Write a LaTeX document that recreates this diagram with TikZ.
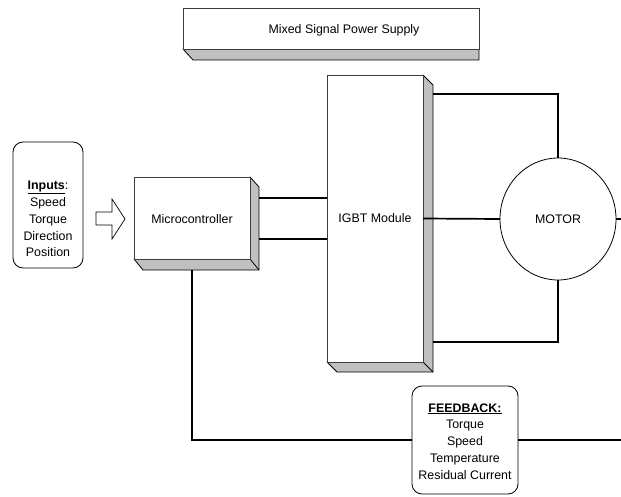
\documentclass[tikz,border=0pt]{standalone}
\usepackage{fontspec}
\setmainfont{Liberation Sans}
\usetikzlibrary{calc,shapes.geometric}
\definecolor{shadowgray}{RGB}{192,192,192}
\definecolor{edgegray}{RGB}{60,60,60}
\begin{document}
\begin{tikzpicture}[x=1pt,y=-1pt,
  face/.style={draw=edgegray, fill=white, line width=0.8pt, inner sep=0pt, outer sep=0pt},
  depthface/.style={draw=black, fill=shadowgray, line width=0.8pt, line join=round},
  wire/.style={line width=1.7pt, line join=miter},
  lbl/.style={font=\fontsize{12.4}{16.8}\selectfont, align=center, inner sep=0pt},
  roundbox/.style={draw=black, fill=white, line width=0.8pt, rounded corners=10pt, inner sep=0pt, outer sep=0pt}
]
\useasboundingbox (0,0) rectangle (621,497);

% ---------- Power supply ----------
\draw[depthface] (183,49) -- (479,49) -- (479,60) -- (193,60) -- cycle;
\node[face, minimum width=296, minimum height=41] (ps) at (331,28.5) {};
\node[lbl] (pstext) at (344,30) {Mixed Signal Power Supply};

% ---------- Inputs ----------
\node[roundbox, minimum width=70, minimum height=126] (inputs) at (48,205) {};
\node[lbl] (inputstext) at (48,219) {\textbf{\underline{Inputs}}:\\Speed\\Torque\\Direction\\Position};

% block arrow
\draw[line width=0.7pt, fill=white, line join=miter]
  (96,212) -- (112,212) -- (112,199) -- (125,219) -- (112,239) -- (112,225) -- (96,225) -- cycle;

% ---------- Microcontroller ----------
\node[face, minimum width=116, minimum height=82] (mc) at (192,218) {};
\draw[depthface] (mc.north east) -- ++(9,10) -- ($(mc.south east)+(9,11)$) -- ($(mc.south west)+(9,11)$)
  -- (mc.south west) -- (mc.south east) -- cycle;
\draw[line width=0.8pt] (mc.south east) -- ++(9,11);
\node[face, minimum width=116, minimum height=82] (mcf) at (192,218) {};
\node[lbl] (mctext) at (192,219) {Microcontroller};

% ---------- IGBT ----------
\node[face, minimum width=96, minimum height=287] (igbt) at (375,218.5) {};
\draw[depthface] (igbt.north east) -- ++(10,10) -- ($(igbt.south east)+(10,10)$) -- ($(igbt.south west)+(10,10)$)
  -- (igbt.south west) -- (igbt.south east) -- cycle;
\draw[line width=0.8pt] (igbt.south east) -- ++(10,10);
\node[face, minimum width=96, minimum height=287] (igbtf) at (375,218.5) {};
\node[lbl] (igbttext) at (375,218) {IGBT Module};

% ---------- Motor ----------
\node[ellipse, draw=black, line width=0.8pt, fill=white, minimum width=116, minimum height=122,
      inner sep=0pt, outer sep=0pt, font=\fontsize{12.4}{16.8}\selectfont] (motor) at (558,219) {MOTOR};

% ---------- Feedback ----------
\node[roundbox, minimum width=106, minimum height=108] (fb) at (465,440) {};
\node[lbl] (fbtext) at (465,441.5) {\textbf{\underline{FEEDBACK:}}\\Torque\\Speed\\Temperature\\Residual Current};

% ---------- Connectors ----------
\coordinate (m1) at ([shift={(9,-20)}]mc.east);
\coordinate (m2) at ([shift={(9,21)}]mc.east);
\draw[wire] (m1) -- (m1 -| igbt.west);
\draw[wire] (m2) -- (m2 -| igbt.west);

\coordinate (t1) at ([shift={(10,19)}]igbt.north east);
\coordinate (b1) at ([shift={(10,-20)}]igbt.south east);
\draw[wire] (t1) -| (motor.north);
\draw[wire] (b1) -| (motor.south);
\draw[wire] (igbt.east) -- (motor.west);

\coordinate (redge1) at (621,219);
\draw[wire] (motor.east) -- (redge1);

\coordinate (m3) at ([shift={(0,11)}]mc.south);
\draw[wire] (m3) |- (fb.west);
\coordinate (redge2) at (621,440);
\draw[wire] (fb.east) -- (redge2);
\end{tikzpicture}
\end{document}
